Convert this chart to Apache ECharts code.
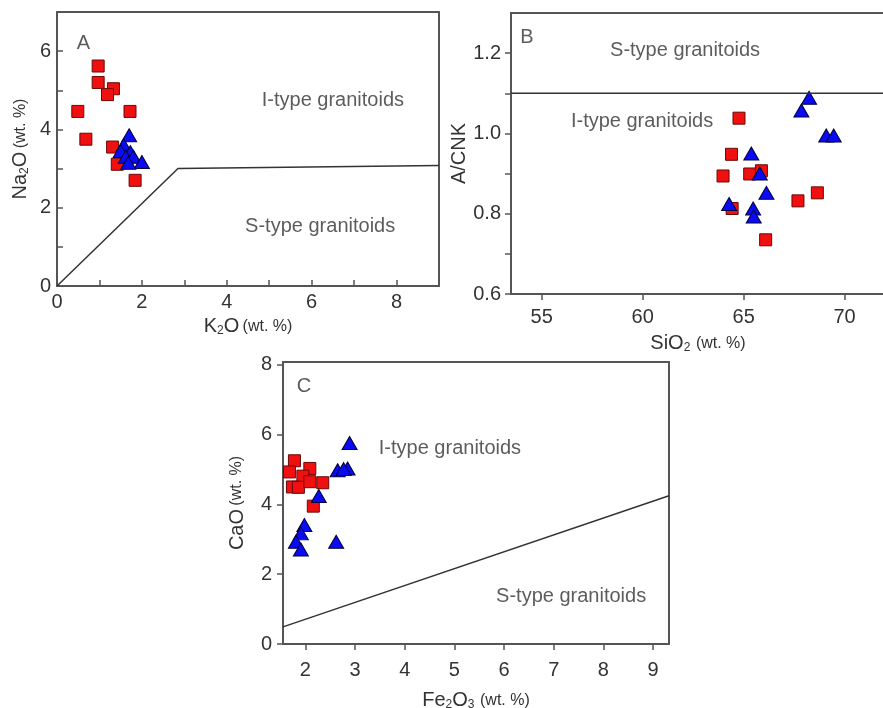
<!DOCTYPE html>
<html><head><meta charset="utf-8">
<script src="https://cdn.jsdelivr.net/npm/echarts@6/dist/echarts.min.js"></script>
<style>html,body{margin:0;padding:0;background:#fff}#c{width:883px;height:708px}</style>
</head><body><div id="c"></div>
<script>
// Panel A: K2O vs Na2O
const A_sq_K2O = [0.97, 0.97, 1.33, 1.19, 0.49, 1.72, 0.68, 1.31, 1.42, 1.84];
const A_sq_Na2O = [5.62, 5.20, 5.04, 4.89, 4.46, 4.46, 3.75, 3.55, 3.11, 2.70];
const A_tr_K2O = [1.70, 1.57, 1.50, 1.73, 1.62, 1.80, 2.00, 1.68];
const A_tr_Na2O = [3.85, 3.60, 3.45, 3.42, 3.30, 3.30, 3.17, 3.15];
const A_line_K2O = [0, 2.85, 9];
const A_line_Na2O = [0, 3.0, 3.08];
const A_xTicks = [0, 2, 4, 6, 8];
const A_yTicks = [0, 2, 4, 6];
// Panel B: SiO2 vs A/CNK
const B_sq_SiO2 = [64.77, 64.40, 63.98, 65.30, 65.88, 64.43, 66.09, 67.69, 68.65];
const B_sq_ACNK = [1.038, 0.948, 0.894, 0.899, 0.907, 0.813, 0.735, 0.832, 0.852];
const B_tr_SiO2 = [68.24, 67.86, 69.09, 69.46, 65.38, 65.80, 66.13, 64.28, 65.47, 65.50];
const B_tr_ACNK = [1.089, 1.057, 0.995, 0.995, 0.950, 0.900, 0.852, 0.824, 0.813, 0.793];
const B_line_SiO2 = [53.48, 72.0];
const B_line_ACNK = [1.1, 1.1];
const B_xTicks = [55, 60, 65, 70];
const B_yTicks = [0.6, 0.8, 1.0, 1.2];
// Panel C: Fe2O3 vs CaO
const C_sq_Fe2O3 = [1.78, 1.68, 2.09, 1.95, 1.74, 1.86, 2.09, 2.35, 2.16];
const C_sq_CaO = [5.25, 4.93, 5.03, 4.81, 4.50, 4.49, 4.65, 4.62, 3.95];
const C_tr_Fe2O3 = [2.89, 2.65, 2.85, 2.77, 2.27, 1.98, 1.91, 1.81, 1.91, 2.62];
const C_tr_CaO = [5.76, 4.98, 5.03, 5.01, 4.24, 3.41, 3.17, 2.93, 2.71, 2.93];
const C_line_Fe2O3 = [1.55, 9.32];
const C_line_CaO = [0.49, 4.25];
const C_xTicks = [2, 3, 4, 5, 6, 7, 8, 9];
const C_yTicks = [0, 2, 4, 6, 8];

const zip = (a, b) => a.map((v, i) => [v, b[i]]);
const FONT = '"Liberation Sans", Arial, sans-serif';
const TXT = '#333';
const AX = '#555';
const SQ = {color: '#f01010', borderColor: '#6a0808', borderWidth: 1, opacity: 1};
const TR = {color: '#0a0af5', borderColor: '#00003a', borderWidth: 1, opacity: 1};

const RICH = {
  m: {fontFamily: FONT, fontSize: 20, color: TXT},
  s: {fontFamily: FONT, fontSize: 12, color: TXT, verticalAlign: 'bottom', padding: [9, 0, 0, 0]},
  w: {fontFamily: FONT, fontSize: 16, color: TXT}
};

function xAx(idx, min, max, ticks, inside, nameRich, nameGap, margin) {
  return {
    type: 'value', gridIndex: idx, min, max, position: 'bottom',
    name: nameRich, nameLocation: 'middle', nameGap,
    nameTextStyle: {fontFamily: FONT, color: TXT, rich: RICH},
    axisLine: {show: true, onZero: false, lineStyle: {color: AX, width: 2}},
    axisTick: {show: true, inside, length: 6, customValues: ticks.all, lineStyle: {color: AX, width: 1.5}},
    axisLabel: {customValues: ticks.lab, fontFamily: FONT, fontSize: 20, color: TXT, margin,
      formatter: v => String(v)},
    splitLine: {show: false}
  };
}
function yAx(idx, min, max, ticks, inside, nameRich, nameGap, margin, labelFmt) {
  return {
    type: 'value', gridIndex: idx, min, max, position: 'left',
    name: nameRich, nameLocation: 'middle', nameGap, nameRotate: 90,
    nameTextStyle: {fontFamily: FONT, color: TXT, rich: RICH},
    axisLine: {show: true, onZero: false, lineStyle: {color: AX, width: 2}},
    axisTick: {show: true, inside, length: 6, customValues: ticks.all, lineStyle: {color: AX, width: 1.5}},
    axisLabel: {customValues: ticks.lab, fontFamily: FONT, fontSize: 20, color: TXT, margin,
      formatter: labelFmt || (v => String(v))},
    splitLine: {show: false}
  };
}
function border(idx, min, max, pos) {
  return {
    type: 'value', gridIndex: idx, min, max, position: pos,
    axisLine: {show: true, onZero: false, lineStyle: {color: AX, width: 2}},
    axisTick: {show: false}, axisLabel: {show: false}, splitLine: {show: false}
  };
}

const range = (a, b, s) => { const r = []; for (let v = a; v <= b + 1e-9; v += s) r.push(+v.toFixed(4)); return r; };

function textSeries(x, y, items) {
  return {type: 'scatter', xAxisIndex: x, yAxisIndex: y, symbol: 'circle', symbolSize: 1, silent: true, z: 1,
    itemStyle: {color: 'rgba(0,0,0,0)'},
    label: {show: true, formatter: p => p.data[2], fontFamily: FONT, fontSize: 20, color: TXT, position: 'inside'},
    data: items};
}

const option = {
  animation: false,
  backgroundColor: '#fff',
  grid: [
    {left: 57, top: 12, width: 382, height: 274, outerBoundsMode: 'none', containLabel: false},
    {left: 511, top: 13, width: 374, height: 281, outerBoundsMode: 'none', containLabel: false},
    {left: 283, top: 362, width: 386, height: 282, outerBoundsMode: 'none', containLabel: false}
  ],
  xAxis: [
    xAx(0, 0, 9, {all: range(0, 9, 1), lab: A_xTicks}, true, '{m|K}{s|2}{m|O} {w|(wt. %)}', 30, 6),
    xAx(1, 53.48, 72.0, {all: B_xTicks, lab: B_xTicks}, false, '{m|SiO}{s|2}{m| }{w|(wt. %)}', 39, 13),
    xAx(2, 1.55, 9.32, {all: C_xTicks, lab: C_xTicks}, false, '{m|Fe}{s|2}{m|O}{s|3}{m| }{w|(wt. %)}', 46, 16),
    border(0, 0, 9, 'top'),
    border(1, 53.48, 72.0, 'top'),
    border(2, 1.55, 9.32, 'top')
  ],
  yAxis: [
    yAx(0, 0, 7, {all: range(0, 7, 1), lab: A_yTicks}, true, '{m|Na}{s|2}{m|O} {w|(wt. %)}', 26, 6),
    yAx(1, 0.6, 1.3, {all: range(0.6, 1.2, 0.1), lab: B_yTicks}, false, '{m|A/CNK}', 42, 10, v => v.toFixed(1)),
    yAx(2, 0, 8.08, {all: C_yTicks, lab: C_yTicks}, false, '{m|CaO} {w|(wt. %)}', 36, 11),
    border(0, 0, 7, 'right'),
    border(2, 0, 8.08, 'right')
  ],
  series: [
    {type: 'line', xAxisIndex: 0, yAxisIndex: 0, data: zip(A_line_K2O, A_line_Na2O), symbol: 'none',
      lineStyle: {color: '#333', width: 1.5}, silent: true},
    {type: 'line', xAxisIndex: 1, yAxisIndex: 1, data: zip(B_line_SiO2, B_line_ACNK), symbol: 'none',
      lineStyle: {color: '#333', width: 1.5}, silent: true},
    {type: 'line', xAxisIndex: 2, yAxisIndex: 2, data: zip(C_line_Fe2O3, C_line_CaO), symbol: 'none',
      lineStyle: {color: '#333', width: 1.5}, silent: true},
    textSeries(0, 0, [[6.5, 4.75, 'I-type granitoids'], [6.2, 1.53, 'S-type granitoids'], [0.62, 6.2, 'A']]),
    textSeries(1, 1, [[62.1, 1.206, 'S-type granitoids'], [59.97, 1.03, 'I-type granitoids'], [54.27, 1.24, 'B']]),
    textSeries(2, 2, [[4.91, 5.61, 'I-type granitoids'], [7.35, 1.35, 'S-type granitoids'], [1.97, 7.38, 'C']]),
    {type: 'scatter', xAxisIndex: 0, yAxisIndex: 0, symbol: 'rect', symbolSize: 12, itemStyle: SQ, data: zip(A_sq_K2O, A_sq_Na2O)},
    {type: 'scatter', xAxisIndex: 0, yAxisIndex: 0, symbol: 'triangle', symbolSize: [15, 13], itemStyle: TR, data: zip(A_tr_K2O, A_tr_Na2O)},
    {type: 'scatter', xAxisIndex: 1, yAxisIndex: 1, symbol: 'rect', symbolSize: 12, itemStyle: SQ, data: zip(B_sq_SiO2, B_sq_ACNK)},
    {type: 'scatter', xAxisIndex: 1, yAxisIndex: 1, symbol: 'triangle', symbolSize: [15, 13], itemStyle: TR, data: zip(B_tr_SiO2, B_tr_ACNK)},
    {type: 'scatter', xAxisIndex: 2, yAxisIndex: 2, symbol: 'rect', symbolSize: 12, itemStyle: SQ, data: zip(C_sq_Fe2O3, C_sq_CaO)},
    {type: 'scatter', xAxisIndex: 2, yAxisIndex: 2, symbol: 'triangle', symbolSize: [15, 13], itemStyle: TR, data: zip(C_tr_Fe2O3, C_tr_CaO)}
  ]
};
const chart = echarts.init(document.getElementById('c'), null, {renderer: 'canvas'});
chart.setOption(option);
</script></body></html>
